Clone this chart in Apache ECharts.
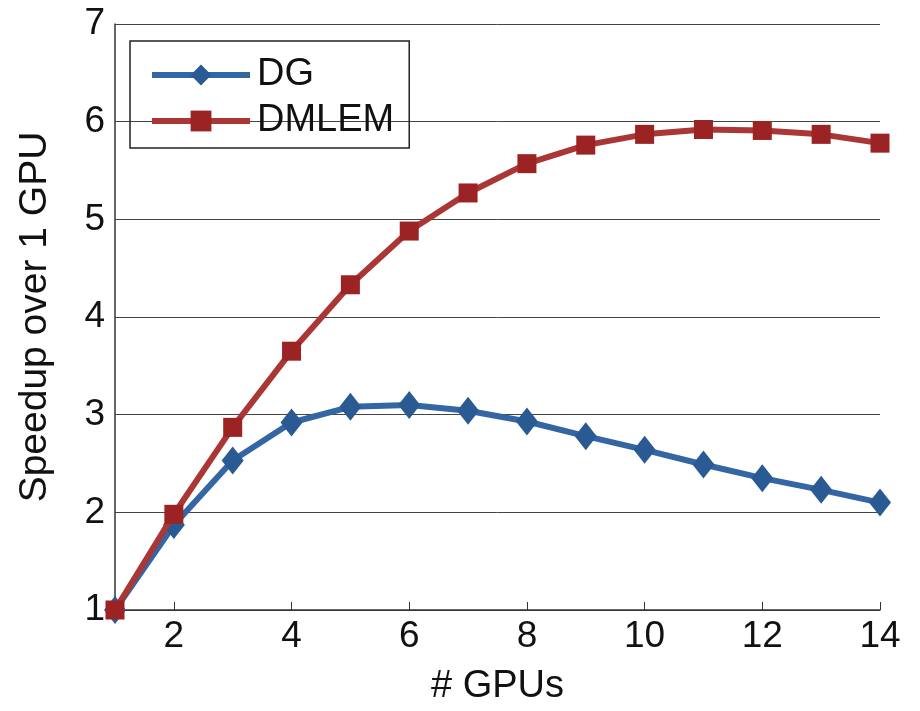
<!DOCTYPE html>
<html><head><meta charset="utf-8">
<script src="https://cdn.jsdelivr.net/npm/echarts@6/dist/echarts.min.js"></script>
<style>html,body{margin:0;padding:0;background:#fff}#c{width:920px;height:711px}</style>
</head><body><div id="c"></div>
<script>
const gpus = ['1','2','3','4','5','6','7','8','9','10','11','12','13','14'];
const dg = [1.0, 1.87, 2.53, 2.92, 3.08, 3.10, 3.04, 2.93, 2.78, 2.64, 2.49, 2.35, 2.23, 2.10];
const dmlem = [1.0, 1.98, 2.87, 3.65, 4.33, 4.88, 5.27, 5.57, 5.76, 5.87, 5.92, 5.91, 5.87, 5.78];
const yTicks = [1, 7, 1];

const chart = echarts.init(document.getElementById('c'));
const font = 'Liberation Sans, Arial, sans-serif';
chart.setOption({
  animation: false,
  backgroundColor: '#fff',
  grid: {left: 115, right: 40, top: 24, bottom: 99},
  legend: {
    left: 130, top: 41,
    orient: 'vertical',
    data: ['DG', 'DMLEM'],
    itemWidth: 98, itemHeight: 26, itemGap: 8,
    borderColor: '#222', borderWidth: 1.5,
    padding: [15, 15, 8, 19],
    lineStyle: {width: 6},
    textStyle: {fontSize: 38, color: '#111', fontFamily: font, padding: [0, 0, 0, 2]}
  },
  xAxis: {
    type: 'category', data: gpus, boundaryGap: false,
    name: '# GPUs', nameLocation: 'middle', nameGap: 58,
    nameTextStyle: {fontSize: 38, color: '#111', fontFamily: font},
    axisLine: {lineStyle: {color: '#333', width: 1.5}},
    axisTick: {inside: true, length: 8, lineStyle: {color: '#333'}, interval: (i, v) => Number(v) % 2 === 0},
    axisLabel: {fontSize: 37, color: '#111', fontFamily: font, margin: 8, interval: (i, v) => Number(v) % 2 === 0},
    splitLine: {show: false}
  },
  yAxis: {
    type: 'value', min: yTicks[0], max: yTicks[1], interval: yTicks[2],
    name: 'Speedup over 1 GPU', nameLocation: 'middle', nameGap: 60,
    nameTextStyle: {fontSize: 39, color: '#111', fontFamily: font},
    axisLine: {show: true, lineStyle: {color: '#333', width: 1.5}},
    axisTick: {show: false},
    axisLabel: {fontSize: 37, color: '#111', fontFamily: font, margin: 10},
    splitLine: {show: true, lineStyle: {color: '#444', width: 1}}
  },
  series: [
    {
      name: 'DG', type: 'line', data: dg,
      symbol: 'diamond', symbolSize: [22, 28],
      lineStyle: {width: 6, color: '#3366a3'},
      itemStyle: {color: '#2a5a94'},
      z: 2
    },
    {
      name: 'DMLEM', type: 'line', data: dmlem,
      symbol: 'rect', symbolSize: 19,
      lineStyle: {width: 6, color: '#aa3636'},
      itemStyle: {color: '#9b2323'},
      z: 3
    }
  ]
});
</script></body></html>
